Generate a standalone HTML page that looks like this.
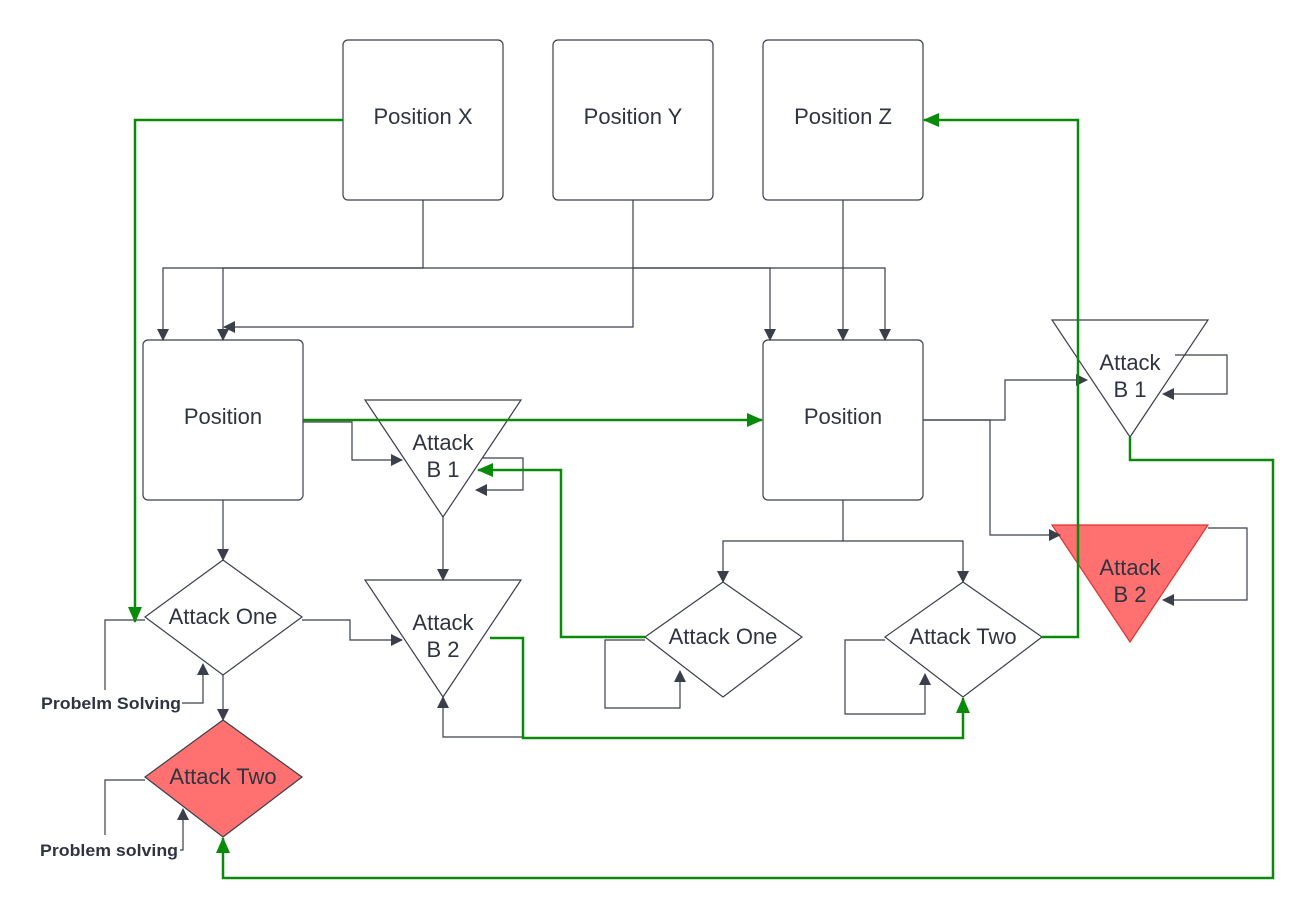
<!DOCTYPE html>
<html><head><meta charset="utf-8"><style>
html,body{margin:0;padding:0;background:#fff;}
svg{display:block;}
text{font-family:"Liberation Sans",sans-serif;fill:#2f3440;}
</style></head><body>
<svg width="1313" height="919" viewBox="0 0 1313 919" xmlns="http://www.w3.org/2000/svg">
<defs>
<marker id="ag" markerWidth="12" markerHeight="12" refX="11" refY="6" orient="auto" markerUnits="userSpaceOnUse"><path d="M0,0 L12,6 L0,12 z" fill="#3a3f4b"/></marker>
<marker id="agr" markerWidth="16" markerHeight="14" refX="15" refY="7" orient="auto" markerUnits="userSpaceOnUse"><path d="M0,0 L16,7 L0,14 z" fill="#0a8a0a"/></marker>
</defs>
<g fill="#fff" stroke="#3a3f4b" stroke-width="1.2">
<rect x="343" y="40" width="160" height="160" rx="5"/>
<rect x="553" y="40" width="160" height="160" rx="5"/>
<rect x="763" y="40" width="160" height="160" rx="5"/>
<rect x="143" y="340" width="160" height="160" rx="5"/>
<rect x="763" y="340" width="160" height="160" rx="5"/>
<path d="M365,400 L521,400 L443,517 Z"/>
<path d="M365,580 L521,580 L443,697 Z"/>
<path d="M1052,320 L1208,320 L1130,437 Z"/>
<path d="M1052,525 L1208,525 L1130,642 Z" fill="#ff7070" stroke="#e03030"/>
<path d="M223,560 L302,617 L223,675 L145,617 Z"/>
<path d="M223,720 L302,777 L223,837 L145,777 Z" fill="#ff7070"/>
<path d="M723,582 L802,637 L723,697 L645,637 Z"/>
<path d="M963,582 L1042,637 L963,697 L885,637 Z"/>
</g>
<g fill="none" stroke="#3a3f4b" stroke-width="1.2">
<path d="M423,200 V268 H163 V340" marker-end="url(#ag)"/>
<path d="M423,268 H223 V340" marker-end="url(#ag)"/>
<path d="M423,268 H770 V340" marker-end="url(#ag)"/>
<path d="M633,200 V268 H843 V340" marker-end="url(#ag)"/>
<path d="M633,268 V327 H224" marker-end="url(#ag)"/>
<path d="M843,200 V268 H885 V340" marker-end="url(#ag)"/>
<path d="M303,422 H352 V460 H402" marker-end="url(#ag)"/>
<path d="M483,458 H523 V490 H476" marker-end="url(#ag)"/>
<path d="M443,517 V580" marker-end="url(#ag)"/>
<path d="M302,620 H350 V640 H402" marker-end="url(#ag)"/>
<path d="M523,737 H443 V697" marker-end="url(#ag)"/>
<path d="M223,500 V560" marker-end="url(#ag)"/>
<path d="M223,675 V720" marker-end="url(#ag)"/>
<path d="M145,620 H105 V690"/>
<path d="M182,703 H203 V664" marker-end="url(#ag)"/>
<path d="M145,780 H105 V835"/>
<path d="M180,850 H183 V809" marker-end="url(#ag)"/>
<path d="M843,500 V541 H723 V582" marker-end="url(#ag)"/>
<path d="M843,541 H963 V582" marker-end="url(#ag)"/>
<path d="M645,640 H605 V708 H680 V671" marker-end="url(#ag)"/>
<path d="M885,640 H845 V714 H925 V674" marker-end="url(#ag)"/>
<path d="M923,420 H1005 V380 H1087" marker-end="url(#ag)"/>
<path d="M923,420 H990 V535 H1060" marker-end="url(#ag)"/>
<path d="M1175,355 H1227 V394 H1163" marker-end="url(#ag)"/>
<path d="M1208,528 H1247 V600 H1163" marker-end="url(#ag)"/>
</g>
<g fill="none" stroke="#0a8a0a" stroke-width="2.5">
<path d="M343,120 H135 V622" marker-end="url(#agr)"/>
<path d="M303,420 H762" marker-end="url(#agr)"/>
<path d="M645,637 H561 V470 H478" marker-end="url(#agr)"/>
<path d="M490,638 H523 V738 H963 V698" marker-end="url(#agr)"/>
<path d="M1042,637 H1078 V120 H924" marker-end="url(#agr)"/>
<path d="M1130,437 V460 H1273 V878 H223 V838" marker-end="url(#agr)"/>
</g>
<g font-size="22" text-anchor="middle">
<text x="423" y="124">Position X</text>
<text x="633" y="124">Position Y</text>
<text x="843" y="124">Position Z</text>
<text x="223" y="424">Position</text>
<text x="843" y="424">Position</text>
<text x="443" y="450">Attack</text><text x="443" y="477">B 1</text>
<text x="443" y="630">Attack</text><text x="443" y="657">B 2</text>
<text x="1130" y="370">Attack</text><text x="1130" y="397">B 1</text>
<text x="1130" y="575">Attack</text><text x="1130" y="602">B 2</text>
<text x="223" y="624">Attack One</text>
<text x="223" y="784">Attack Two</text>
<text x="723" y="644">Attack One</text>
<text x="963" y="644">Attack Two</text>
</g>
<g font-size="17" font-weight="bold">
<text x="41" y="709" textLength="140" lengthAdjust="spacingAndGlyphs">Probelm Solving</text>
<text x="40" y="856" textLength="138" lengthAdjust="spacingAndGlyphs">Problem solving</text>
</g>
</svg>
</body></html>
